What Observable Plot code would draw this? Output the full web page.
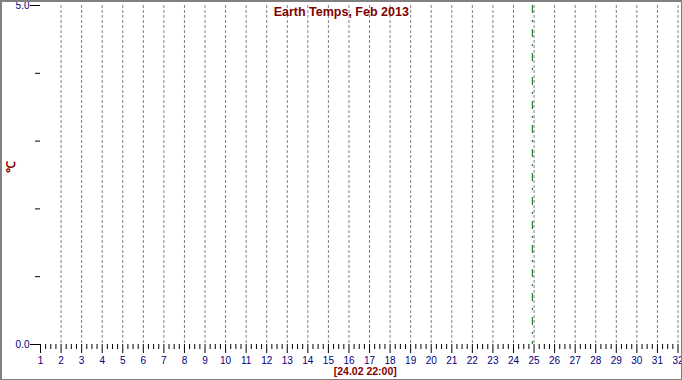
<!DOCTYPE html>
<html>
<head>
<meta charset="utf-8">
<script src="https://cdn.jsdelivr.net/npm/d3@7"></script>
<script src="https://cdn.jsdelivr.net/npm/@observablehq/plot@0.6"></script>
<style>
  html, body { margin: 0; padding: 0; background: #fff; }
  #wrap { position: relative; width: 682px; height: 380px; overflow: hidden; }
  #wrap svg { display: block; }
  #border { position: absolute; left: 0; top: 0; width: 682px; height: 380px; box-sizing: border-box;
            border: 2px solid #808080; border-right-width: 1.5px; border-bottom-width: 1.5px; pointer-events: none; }
</style>
</head>
<body>
<div id="wrap"><div id="border"></div></div>
<script>
// ---- data ----
const title = "Earth Temps, Feb 2013";
const unitLabel = "℃";
const dayTicks = [1,2,3,4,5,6,7,8,9,10,11,12,13,14,15,16,17,18,19,20,21,22,23,24,25,26,27,28,29,30,31,32];
const dayTickLabels = ["1","2","3","4","5","6","7","8","9","10","11","12","13","14","15","16","17","18","19","20","21","22","23","24","25","26","27","28","29","30","31","32"];
const gridDays = [2,3,4,5,6,7,8,9,10,11,12,13,14,15,16,17,18,19,20,21,22,23,24,25,26,27,28,29,30,31,32];
const yTicks = [0, 5];
const yTickLabels = ["0.0", "5.0"];
const yMinorTicks = [1, 2, 3, 4];
const markerDay = [24 + 22 / 24];          // 24.02 22:00
const markerLabel = ["[24.02 22:00]"];

// minor x ticks every 6 hours (axis decoration only)
const minorTicks = d3.range(1, 32, 0.25).filter(d => d % 1 !== 0);

const labelColor = "#000080";
const titleColor = "#800000";

const chart = Plot.plot({
  width: 682,
  height: 380,
  marginLeft: 40,
  marginRight: 4.5,
  marginTop: 5,
  marginBottom: 36,
  x: { domain: [1, 32] },
  y: { domain: [0, 5] },
  style: { fontFamily: "'Liberation Sans', Arial, sans-serif", background: "white", overflow: "visible" },
  marks: [
    Plot.ruleX(gridDays, { stroke: "#808080", strokeWidth: 1, strokeDasharray: "3,2" }),
    Plot.ruleX(markerDay, { stroke: "#006400", strokeWidth: 1, strokeDasharray: "8,7,2,7" }),
    Plot.axisX({ ticks: minorTicks, tickSize: 5, tickFormat: () => "", stroke: "black", label: null }),
    Plot.axisX({ ticks: dayTicks, tickSize: 9, tickPadding: 3, fontSize: 10,
      tickFormat: d => dayTickLabels[dayTicks.indexOf(d)], fill: labelColor, stroke: "black", label: null }),
    Plot.axisY({ ticks: yMinorTicks, tickSize: 5, tickFormat: () => "", stroke: "black", label: null }),
    Plot.axisY({ ticks: yTicks, tickSize: 10, tickPadding: 1, fontSize: 10,
      tickFormat: d => yTickLabels[yTicks.indexOf(d)], fill: labelColor, stroke: "black", label: null }),
    Plot.text([title], { frameAnchor: "top", lineAnchor: "top", dx: -18, dy: 2,
      fill: titleColor, fontSize: 12.5, fontWeight: "bold" }),
    Plot.text(markerLabel, { frameAnchor: "bottom", lineAnchor: "top", dx: 6, dy: 23,
      fill: titleColor, fontSize: 10.5, fontWeight: "bold" }),
    Plot.text([unitLabel], { frameAnchor: "left", rotate: -90, dx: -29, dy: -2.5,
      fill: titleColor, fontSize: 12, fontWeight: "bold" })
  ]
});
document.getElementById("wrap").insertBefore(chart, document.getElementById("border"));
</script>
</body>
</html>
